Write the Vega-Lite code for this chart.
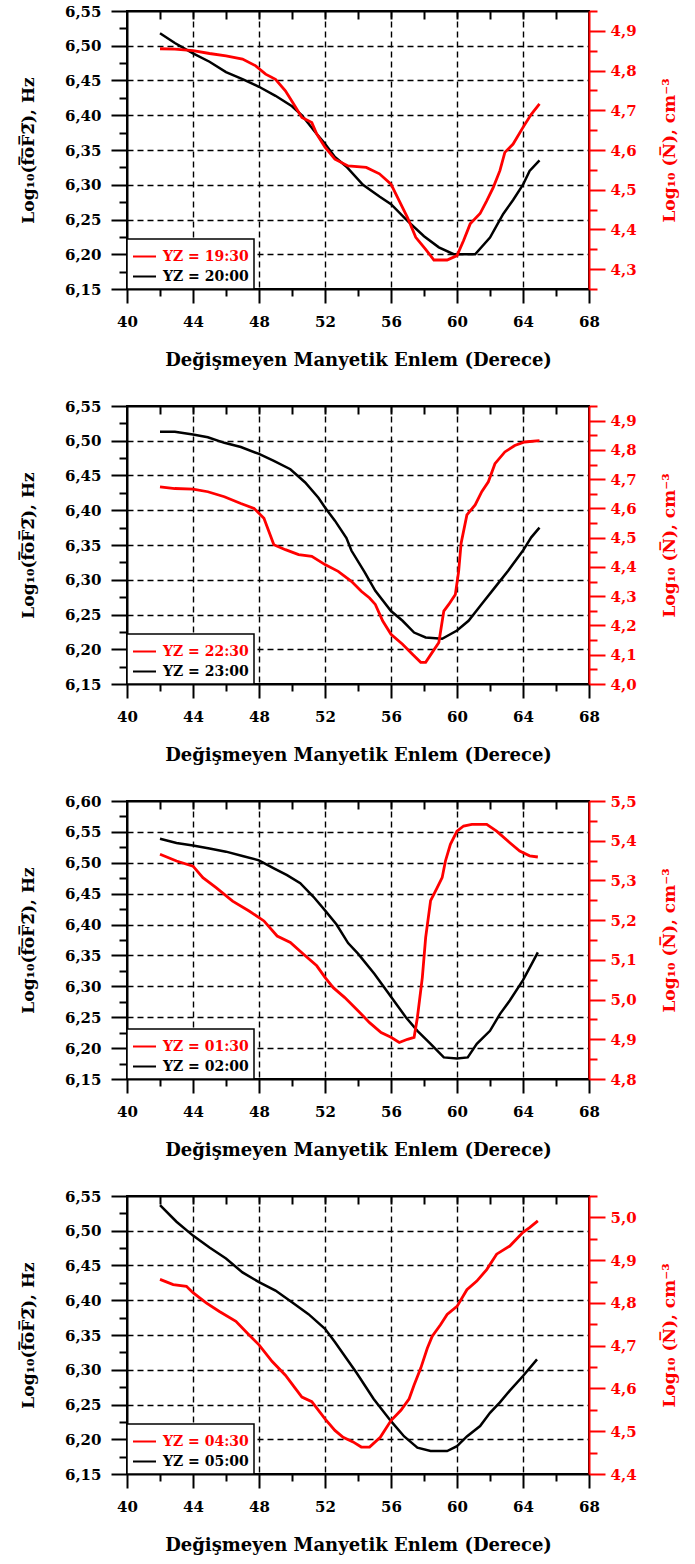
{
  "$schema": "https://vega.github.io/schema/vega-lite/v6.json",
  "padding": {"left": 18, "top": 3, "right": 5, "bottom": 5},
  "background": "white",
  "bounds": "flush",
  "spacing": 117,
  "datasets": {
    "f1": [{"x":42,"y":6.518},{"x":42.9,"y":6.504},{"x":44,"y":6.489},{"x":45,"y":6.477},{"x":46,"y":6.462},{"x":47,"y":6.452},{"x":48,"y":6.441},{"x":49,"y":6.428},{"x":50,"y":6.413},{"x":50.6,"y":6.4},{"x":51.4,"y":6.376},{"x":52,"y":6.359},{"x":52.6,"y":6.34},{"x":53.3,"y":6.326},{"x":54.3,"y":6.3},{"x":55.3,"y":6.283},{"x":56,"y":6.272},{"x":57,"y":6.248},{"x":58,"y":6.226},{"x":58.9,"y":6.21},{"x":59.8,"y":6.2},{"x":61.1,"y":6.2},{"x":62,"y":6.224},{"x":62.8,"y":6.258},{"x":63.4,"y":6.278},{"x":64,"y":6.3},{"x":64.4,"y":6.32},{"x":65,"y":6.335}],
    "n1": [{"x":42,"y":4.855},{"x":42.9,"y":4.854},{"x":44,"y":4.85},{"x":45,"y":4.843},{"x":46,"y":4.837},{"x":47,"y":4.829},{"x":47.8,"y":4.812},{"x":48.4,"y":4.791},{"x":49,"y":4.778},{"x":49.6,"y":4.749},{"x":50.1,"y":4.716},{"x":50.6,"y":4.682},{"x":51.2,"y":4.669},{"x":51.5,"y":4.64},{"x":52,"y":4.607},{"x":52.6,"y":4.577},{"x":53.4,"y":4.56},{"x":54.5,"y":4.556},{"x":55.3,"y":4.54},{"x":56,"y":4.514},{"x":56.5,"y":4.472},{"x":57,"y":4.43},{"x":57.5,"y":4.38},{"x":58.1,"y":4.35},{"x":58.6,"y":4.323},{"x":59.4,"y":4.323},{"x":60,"y":4.334},{"x":60.4,"y":4.372},{"x":60.8,"y":4.414},{"x":61.4,"y":4.44},{"x":61.8,"y":4.472},{"x":62.2,"y":4.506},{"x":62.6,"y":4.548},{"x":62.9,"y":4.594},{"x":63.4,"y":4.615},{"x":64,"y":4.657},{"x":64.5,"y":4.69},{"x":65,"y":4.716}],
    "f2": [{"x":42,"y":6.513},{"x":42.9,"y":6.513},{"x":44,"y":6.509},{"x":44.9,"y":6.505},{"x":45.9,"y":6.497},{"x":46.9,"y":6.491},{"x":48,"y":6.481},{"x":48.9,"y":6.471},{"x":49.9,"y":6.459},{"x":50.8,"y":6.44},{"x":51.6,"y":6.418},{"x":52,"y":6.404},{"x":52.6,"y":6.385},{"x":53.3,"y":6.36},{"x":53.6,"y":6.342},{"x":54.4,"y":6.311},{"x":55.05,"y":6.284},{"x":56,"y":6.255},{"x":56.7,"y":6.241},{"x":57.4,"y":6.224},{"x":58.1,"y":6.217},{"x":59.1,"y":6.215},{"x":60,"y":6.227},{"x":60.7,"y":6.241},{"x":61.5,"y":6.265},{"x":62.3,"y":6.289},{"x":63.1,"y":6.313},{"x":64,"y":6.342},{"x":64.5,"y":6.361},{"x":65,"y":6.375}],
    "n2": [{"x":42,"y":4.674},{"x":42.9,"y":4.668},{"x":44,"y":4.666},{"x":44.9,"y":4.657},{"x":45.9,"y":4.64},{"x":46.9,"y":4.617},{"x":47.7,"y":4.6},{"x":48.3,"y":4.566},{"x":48.6,"y":4.521},{"x":48.9,"y":4.476},{"x":49.6,"y":4.459},{"x":50.4,"y":4.442},{"x":51.2,"y":4.436},{"x":52,"y":4.408},{"x":52.8,"y":4.385},{"x":53.6,"y":4.351},{"x":54.2,"y":4.317},{"x":54.7,"y":4.294},{"x":55.05,"y":4.272},{"x":55.5,"y":4.215},{"x":56,"y":4.17},{"x":56.7,"y":4.136},{"x":57.3,"y":4.102},{"x":57.8,"y":4.074},{"x":58.1,"y":4.074},{"x":58.5,"y":4.108},{"x":58.9,"y":4.142},{"x":59.2,"y":4.249},{"x":59.5,"y":4.272},{"x":59.9,"y":4.306},{"x":60.1,"y":4.385},{"x":60.25,"y":4.481},{"x":60.6,"y":4.578},{"x":61.1,"y":4.612},{"x":61.5,"y":4.657},{"x":61.9,"y":4.691},{"x":62.3,"y":4.753},{"x":62.9,"y":4.793},{"x":63.5,"y":4.815},{"x":64.1,"y":4.827},{"x":65,"y":4.832}],
    "f3": [{"x":42,"y":6.539},{"x":43,"y":6.532},{"x":44,"y":6.528},{"x":45,"y":6.523},{"x":46,"y":6.518},{"x":47,"y":6.511},{"x":48,"y":6.504},{"x":48.9,"y":6.491},{"x":49.7,"y":6.48},{"x":50.5,"y":6.467},{"x":51.3,"y":6.445},{"x":52,"y":6.423},{"x":52.7,"y":6.4},{"x":53.4,"y":6.37},{"x":54,"y":6.353},{"x":55,"y":6.32},{"x":56,"y":6.283},{"x":56.9,"y":6.25},{"x":57.6,"y":6.228},{"x":58.4,"y":6.207},{"x":59.2,"y":6.185},{"x":60,"y":6.183},{"x":60.65,"y":6.185},{"x":61.2,"y":6.207},{"x":62,"y":6.228},{"x":62.6,"y":6.255},{"x":63.2,"y":6.277},{"x":64,"y":6.31},{"x":64.4,"y":6.33},{"x":64.9,"y":6.355}],
    "n3": [{"x":42,"y":5.366},{"x":43,"y":5.349},{"x":44,"y":5.336},{"x":44.6,"y":5.307},{"x":45.4,"y":5.282},{"x":46.4,"y":5.248},{"x":47.4,"y":5.223},{"x":48.3,"y":5.198},{"x":49.1,"y":5.16},{"x":49.9,"y":5.144},{"x":50.7,"y":5.114},{"x":51.5,"y":5.085},{"x":52,"y":5.056},{"x":52.5,"y":5.03},{"x":53.2,"y":5.005},{"x":54,"y":4.972},{"x":54.7,"y":4.942},{"x":55.4,"y":4.917},{"x":56,"y":4.905},{"x":56.5,"y":4.892},{"x":57,"y":4.9},{"x":57.4,"y":4.905},{"x":57.6,"y":4.955},{"x":57.9,"y":5.056},{"x":58.1,"y":5.156},{"x":58.4,"y":5.249},{"x":58.8,"y":5.282},{"x":59.1,"y":5.307},{"x":59.3,"y":5.349},{"x":59.6,"y":5.391},{"x":60,"y":5.424},{"x":60.4,"y":5.437},{"x":60.9,"y":5.441},{"x":61.8,"y":5.441},{"x":62.4,"y":5.424},{"x":63.2,"y":5.395},{"x":63.8,"y":5.374},{"x":64.4,"y":5.362},{"x":64.9,"y":5.359}],
    "f4": [{"x":42,"y":6.537},{"x":43,"y":6.513},{"x":44,"y":6.493},{"x":45,"y":6.476},{"x":46,"y":6.46},{"x":47,"y":6.44},{"x":48,"y":6.426},{"x":49,"y":6.414},{"x":50,"y":6.397},{"x":51,"y":6.38},{"x":52,"y":6.359},{"x":52.6,"y":6.34},{"x":53.1,"y":6.323},{"x":53.9,"y":6.296},{"x":54.95,"y":6.258},{"x":56,"y":6.226},{"x":56.8,"y":6.204},{"x":57.6,"y":6.188},{"x":58.4,"y":6.183},{"x":59.4,"y":6.183},{"x":60,"y":6.19},{"x":60.6,"y":6.204},{"x":61.4,"y":6.219},{"x":62,"y":6.238},{"x":62.6,"y":6.253},{"x":63.2,"y":6.27},{"x":64,"y":6.291},{"x":64.85,"y":6.315}],
    "n4": [{"x":42,"y":4.855},{"x":42.8,"y":4.843},{"x":43.6,"y":4.839},{"x":44,"y":4.824},{"x":44.8,"y":4.8},{"x":45.6,"y":4.78},{"x":46.6,"y":4.757},{"x":47.4,"y":4.725},{"x":48,"y":4.702},{"x":48.8,"y":4.663},{"x":49.6,"y":4.631},{"x":50.2,"y":4.6},{"x":50.6,"y":4.58},{"x":51.2,"y":4.569},{"x":52,"y":4.529},{"x":52.6,"y":4.502},{"x":53.1,"y":4.486},{"x":53.7,"y":4.475},{"x":54.2,"y":4.463},{"x":54.7,"y":4.463},{"x":55.35,"y":4.486},{"x":56,"y":4.525},{"x":56.6,"y":4.549},{"x":57.1,"y":4.576},{"x":57.4,"y":4.608},{"x":57.8,"y":4.647},{"x":58.2,"y":4.694},{"x":58.5,"y":4.722},{"x":59,"y":4.749},{"x":59.4,"y":4.773},{"x":60,"y":4.792},{"x":60.6,"y":4.831},{"x":61.2,"y":4.851},{"x":61.8,"y":4.878},{"x":62.4,"y":4.914},{"x":63.2,"y":4.933},{"x":64,"y":4.965},{"x":64.4,"y":4.976},{"x":64.9,"y":4.992}]
  },
  "resolve": {"scale": {"x": "independent", "y": "independent", "color": "independent"}, "legend": {"color": "independent"}},
  "vconcat": [
    {
      "width": 462, "height": 278,
      "resolve": {"scale": {"y": "independent"}, "axis": {"x": "independent"}},
      "layer": [
        {
          "data": {"name": "f1"},
          "mark": {"type": "line", "strokeWidth": 2.5},
          "encoding": {
            "x": {"field": "x", "type": "quantitative", "scale": {"domain": [40, 68], "nice": false, "zero": false},
              "axis": {"orient": "bottom", "values": [40,42,44,46,48,50,52,54,56,58,60,62,64,66,68], "labelExpr": "datum.value % 4 == 0 ? datum.label : ''", "tickSize": {"condition": {"test": "datum.value % 4 == 0", "value": 14}, "value": 7}, "grid": true, "gridOpacity": {"condition": {"test": "datum.value % 4 == 0 && datum.value > 40 && datum.value < 68", "value": 1}, "value": 0}, "labelPadding": 11, "title": "Değişmeyen Manyetik Enlem (Derece)", "titleFontSize": 18, "titlePadding": 22}},
            "y": {"field": "y", "type": "quantitative", "scale": {"domain": [6.15, 6.55], "nice": false, "zero": false},
              "axis": {"orient": "left", "values": [6.15,6.175,6.2,6.225,6.25,6.275,6.3,6.325,6.35,6.375,6.4,6.425,6.45,6.475,6.5,6.525,6.55], "labelExpr": "abs(datum.value*20-round(datum.value*20))<0.01 ? replace(format(datum.value,'.2f'),'.',',') : ''", "tickSize": {"condition": {"test": "abs(datum.value*20-round(datum.value*20))<0.01", "value": 16}, "value": 8}, "grid": true, "gridOpacity": {"condition": {"test": "abs(datum.value*20-round(datum.value*20))<0.01 && datum.value > 6.16 && datum.value < 6.54", "value": 1}, "value": 0}, "labelPadding": 10, "title": "Log\u2081\u2080(f\u0305o\u0305F\u03052\u0305), Hz", "titlePadding": 27}},
            "color": {"datum": "YZ = 20:00", "type": "nominal", "scale": {"domain": ["YZ = 19:30", "YZ = 20:00"], "range": ["#ff0000", "#000000"]},
              "legend": {"orient": "bottom-left", "offset": 0, "title": null, "padding": 5, "symbolType": "stroke", "symbolSize": 529, "symbolStrokeWidth": 2, "rowPadding": 0, "labelOffset": 6,
                "encode": {"labels": {"update": {"fill": {"signal": "indexof(['YZ = 19:30','YZ = 22:30','YZ = 01:30','YZ = 04:30'], datum.value) >= 0 ? '#ff0000' : '#000000'"}}}}}}
          }
        },
        {
          "data": {"name": "n1"},
          "mark": {"type": "line", "strokeWidth": 2.8},
          "encoding": {
            "x": {"field": "x", "type": "quantitative", "axis": {"orient": "top", "values": [42,44,46,48,50,52,54,56,58,60,62,64,66], "labels": false, "tickSize": -8, "grid": false, "title": null}},
            "y": {"field": "y", "type": "quantitative", "scale": {"domain": [4.25, 4.95], "nice": false, "zero": false},
              "axis": {"orient": "right", "values": [4.25,4.3,4.35,4.4,4.45,4.5,4.55,4.6,4.65,4.7,4.75,4.8,4.85,4.9,4.95], "labelExpr": "abs(datum.value*10-round(datum.value*10))<0.01 ? replace(format(datum.value,'.1f'),'.',',') : ''", "tickSize": {"condition": {"test": "abs(datum.value*10-round(datum.value*10))<0.01", "value": 16}, "value": 8}, "grid": false, "domainColor": "#ff0000", "tickColor": "#ff0000", "labelColor": "#ff0000", "titleColor": "#ff0000", "labelPadding": 5, "title": "Log\u2081\u2080 (N\u0305), cm\u207B\u00B3", "titleAngle": 270, "titlePadding": 42}},
            "color": {"datum": "YZ = 19:30", "type": "nominal"}
          }
        }
      ]
    },
    {
      "width": 462, "height": 278,
      "resolve": {"scale": {"y": "independent"}, "axis": {"x": "independent"}},
      "layer": [
        {
          "data": {"name": "f2"},
          "mark": {"type": "line", "strokeWidth": 2.5},
          "encoding": {
            "x": {"field": "x", "type": "quantitative", "scale": {"domain": [40, 68], "nice": false, "zero": false},
              "axis": {"orient": "bottom", "values": [40,42,44,46,48,50,52,54,56,58,60,62,64,66,68], "labelExpr": "datum.value % 4 == 0 ? datum.label : ''", "tickSize": {"condition": {"test": "datum.value % 4 == 0", "value": 14}, "value": 7}, "grid": true, "gridOpacity": {"condition": {"test": "datum.value % 4 == 0 && datum.value > 40 && datum.value < 68", "value": 1}, "value": 0}, "labelPadding": 11, "title": "Değişmeyen Manyetik Enlem (Derece)", "titleFontSize": 18, "titlePadding": 22}},
            "y": {"field": "y", "type": "quantitative", "scale": {"domain": [6.15, 6.55], "nice": false, "zero": false},
              "axis": {"orient": "left", "values": [6.15,6.175,6.2,6.225,6.25,6.275,6.3,6.325,6.35,6.375,6.4,6.425,6.45,6.475,6.5,6.525,6.55], "labelExpr": "abs(datum.value*20-round(datum.value*20))<0.01 ? replace(format(datum.value,'.2f'),'.',',') : ''", "tickSize": {"condition": {"test": "abs(datum.value*20-round(datum.value*20))<0.01", "value": 16}, "value": 8}, "grid": true, "gridOpacity": {"condition": {"test": "abs(datum.value*20-round(datum.value*20))<0.01 && datum.value > 6.16 && datum.value < 6.54", "value": 1}, "value": 0}, "labelPadding": 10, "title": "Log\u2081\u2080(f\u0305o\u0305F\u03052\u0305), Hz", "titlePadding": 27}},
            "color": {"datum": "YZ = 23:00", "type": "nominal", "scale": {"domain": ["YZ = 22:30", "YZ = 23:00"], "range": ["#ff0000", "#000000"]},
              "legend": {"orient": "bottom-left", "offset": 0, "title": null, "padding": 5, "symbolType": "stroke", "symbolSize": 529, "symbolStrokeWidth": 2, "rowPadding": 0, "labelOffset": 6,
                "encode": {"labels": {"update": {"fill": {"signal": "indexof(['YZ = 19:30','YZ = 22:30','YZ = 01:30','YZ = 04:30'], datum.value) >= 0 ? '#ff0000' : '#000000'"}}}}}}
          }
        },
        {
          "data": {"name": "n2"},
          "mark": {"type": "line", "strokeWidth": 2.8},
          "encoding": {
            "x": {"field": "x", "type": "quantitative", "axis": {"orient": "top", "values": [42,44,46,48,50,52,54,56,58,60,62,64,66], "labels": false, "tickSize": -8, "grid": false, "title": null}},
            "y": {"field": "y", "type": "quantitative", "scale": {"domain": [4.0, 4.95], "nice": false, "zero": false},
              "axis": {"orient": "right", "values": [4.0,4.05,4.1,4.15,4.2,4.25,4.3,4.35,4.4,4.45,4.5,4.55,4.6,4.65,4.7,4.75,4.8,4.85,4.9,4.95], "labelExpr": "abs(datum.value*10-round(datum.value*10))<0.01 ? replace(format(datum.value,'.1f'),'.',',') : ''", "tickSize": {"condition": {"test": "abs(datum.value*10-round(datum.value*10))<0.01", "value": 16}, "value": 8}, "grid": false, "domainColor": "#ff0000", "tickColor": "#ff0000", "labelColor": "#ff0000", "titleColor": "#ff0000", "labelPadding": 5, "title": "Log\u2081\u2080 (N\u0305), cm\u207B\u00B3", "titleAngle": 270, "titlePadding": 42}},
            "color": {"datum": "YZ = 22:30", "type": "nominal"}
          }
        }
      ]
    },
    {
      "width": 462, "height": 278,
      "resolve": {"scale": {"y": "independent"}, "axis": {"x": "independent"}},
      "layer": [
        {
          "data": {"name": "f3"},
          "mark": {"type": "line", "strokeWidth": 2.5},
          "encoding": {
            "x": {"field": "x", "type": "quantitative", "scale": {"domain": [40, 68], "nice": false, "zero": false},
              "axis": {"orient": "bottom", "values": [40,42,44,46,48,50,52,54,56,58,60,62,64,66,68], "labelExpr": "datum.value % 4 == 0 ? datum.label : ''", "tickSize": {"condition": {"test": "datum.value % 4 == 0", "value": 14}, "value": 7}, "grid": true, "gridOpacity": {"condition": {"test": "datum.value % 4 == 0 && datum.value > 40 && datum.value < 68", "value": 1}, "value": 0}, "labelPadding": 11, "title": "Değişmeyen Manyetik Enlem (Derece)", "titleFontSize": 18, "titlePadding": 22}},
            "y": {"field": "y", "type": "quantitative", "scale": {"domain": [6.15, 6.6], "nice": false, "zero": false},
              "axis": {"orient": "left", "values": [6.15,6.175,6.2,6.225,6.25,6.275,6.3,6.325,6.35,6.375,6.4,6.425,6.45,6.475,6.5,6.525,6.55,6.575,6.6], "labelExpr": "abs(datum.value*20-round(datum.value*20))<0.01 ? replace(format(datum.value,'.2f'),'.',',') : ''", "tickSize": {"condition": {"test": "abs(datum.value*20-round(datum.value*20))<0.01", "value": 16}, "value": 8}, "grid": true, "gridOpacity": {"condition": {"test": "abs(datum.value*20-round(datum.value*20))<0.01 && datum.value > 6.16 && datum.value < 6.59", "value": 1}, "value": 0}, "labelPadding": 10, "title": "Log\u2081\u2080(f\u0305o\u0305F\u03052\u0305), Hz", "titlePadding": 27}},
            "color": {"datum": "YZ = 02:00", "type": "nominal", "scale": {"domain": ["YZ = 01:30", "YZ = 02:00"], "range": ["#ff0000", "#000000"]},
              "legend": {"orient": "bottom-left", "offset": 0, "title": null, "padding": 5, "symbolType": "stroke", "symbolSize": 529, "symbolStrokeWidth": 2, "rowPadding": 0, "labelOffset": 6,
                "encode": {"labels": {"update": {"fill": {"signal": "indexof(['YZ = 19:30','YZ = 22:30','YZ = 01:30','YZ = 04:30'], datum.value) >= 0 ? '#ff0000' : '#000000'"}}}}}}
          }
        },
        {
          "data": {"name": "n3"},
          "mark": {"type": "line", "strokeWidth": 2.8},
          "encoding": {
            "x": {"field": "x", "type": "quantitative", "axis": {"orient": "top", "values": [42,44,46,48,50,52,54,56,58,60,62,64,66], "labels": false, "tickSize": -8, "grid": false, "title": null}},
            "y": {"field": "y", "type": "quantitative", "scale": {"domain": [4.8, 5.5], "nice": false, "zero": false},
              "axis": {"orient": "right", "values": [4.8,4.85,4.9,4.95,5.0,5.05,5.1,5.15,5.2,5.25,5.3,5.35,5.4,5.45,5.5], "labelExpr": "abs(datum.value*10-round(datum.value*10))<0.01 ? replace(format(datum.value,'.1f'),'.',',') : ''", "tickSize": {"condition": {"test": "abs(datum.value*10-round(datum.value*10))<0.01", "value": 16}, "value": 8}, "grid": false, "domainColor": "#ff0000", "tickColor": "#ff0000", "labelColor": "#ff0000", "titleColor": "#ff0000", "labelPadding": 5, "title": "Log\u2081\u2080 (N\u0305), cm\u207B\u00B3", "titleAngle": 270, "titlePadding": 42}},
            "color": {"datum": "YZ = 01:30", "type": "nominal"}
          }
        }
      ]
    },
    {
      "width": 462, "height": 278,
      "resolve": {"scale": {"y": "independent"}, "axis": {"x": "independent"}},
      "layer": [
        {
          "data": {"name": "f4"},
          "mark": {"type": "line", "strokeWidth": 2.5},
          "encoding": {
            "x": {"field": "x", "type": "quantitative", "scale": {"domain": [40, 68], "nice": false, "zero": false},
              "axis": {"orient": "bottom", "values": [40,42,44,46,48,50,52,54,56,58,60,62,64,66,68], "labelExpr": "datum.value % 4 == 0 ? datum.label : ''", "tickSize": {"condition": {"test": "datum.value % 4 == 0", "value": 14}, "value": 7}, "grid": true, "gridOpacity": {"condition": {"test": "datum.value % 4 == 0 && datum.value > 40 && datum.value < 68", "value": 1}, "value": 0}, "labelPadding": 11, "title": "Değişmeyen Manyetik Enlem (Derece)", "titleFontSize": 18, "titlePadding": 22}},
            "y": {"field": "y", "type": "quantitative", "scale": {"domain": [6.15, 6.55], "nice": false, "zero": false},
              "axis": {"orient": "left", "values": [6.15,6.175,6.2,6.225,6.25,6.275,6.3,6.325,6.35,6.375,6.4,6.425,6.45,6.475,6.5,6.525,6.55], "labelExpr": "abs(datum.value*20-round(datum.value*20))<0.01 ? replace(format(datum.value,'.2f'),'.',',') : ''", "tickSize": {"condition": {"test": "abs(datum.value*20-round(datum.value*20))<0.01", "value": 16}, "value": 8}, "grid": true, "gridOpacity": {"condition": {"test": "abs(datum.value*20-round(datum.value*20))<0.01 && datum.value > 6.16 && datum.value < 6.54", "value": 1}, "value": 0}, "labelPadding": 10, "title": "Log\u2081\u2080(f\u0305o\u0305F\u03052\u0305), Hz", "titlePadding": 27}},
            "color": {"datum": "YZ = 05:00", "type": "nominal", "scale": {"domain": ["YZ = 04:30", "YZ = 05:00"], "range": ["#ff0000", "#000000"]},
              "legend": {"orient": "bottom-left", "offset": 0, "title": null, "padding": 5, "symbolType": "stroke", "symbolSize": 529, "symbolStrokeWidth": 2, "rowPadding": 0, "labelOffset": 6,
                "encode": {"labels": {"update": {"fill": {"signal": "indexof(['YZ = 19:30','YZ = 22:30','YZ = 01:30','YZ = 04:30'], datum.value) >= 0 ? '#ff0000' : '#000000'"}}}}}}
          }
        },
        {
          "data": {"name": "n4"},
          "mark": {"type": "line", "strokeWidth": 2.8},
          "encoding": {
            "x": {"field": "x", "type": "quantitative", "axis": {"orient": "top", "values": [42,44,46,48,50,52,54,56,58,60,62,64,66], "labels": false, "tickSize": -8, "grid": false, "title": null}},
            "y": {"field": "y", "type": "quantitative", "scale": {"domain": [4.4, 5.05], "nice": false, "zero": false},
              "axis": {"orient": "right", "values": [4.4,4.45,4.5,4.55,4.6,4.65,4.7,4.75,4.8,4.85,4.9,4.95,5.0,5.05], "labelExpr": "abs(datum.value*10-round(datum.value*10))<0.01 ? replace(format(datum.value,'.1f'),'.',',') : ''", "tickSize": {"condition": {"test": "abs(datum.value*10-round(datum.value*10))<0.01", "value": 16}, "value": 8}, "grid": false, "domainColor": "#ff0000", "tickColor": "#ff0000", "labelColor": "#ff0000", "titleColor": "#ff0000", "labelPadding": 5, "title": "Log\u2081\u2080 (N\u0305), cm\u207B\u00B3", "titleAngle": 270, "titlePadding": 42}},
            "color": {"datum": "YZ = 04:30", "type": "nominal"}
          }
        }
      ]
    }
  ],
  "config": {
    "view": {"stroke": "#000000", "strokeWidth": 2},
    "axis": {"labelFont": "DejaVu Serif", "labelFontWeight": "bold", "labelFontSize": 15, "labelColor": "#000000", "titleFont": "DejaVu Serif", "titleFontWeight": "bold", "titleFontSize": 17, "titleColor": "#000000", "domainColor": "#000000", "domainWidth": 2, "tickColor": "#000000", "tickWidth": 2, "gridColor": "#000000", "gridDash": [6, 4], "gridWidth": 1.4, "labelFlush": false, "labelOverlap": false, "labelBound": false},
    "legend": {"labelFont": "DejaVu Serif", "labelFontWeight": "bold", "labelFontSize": 14, "strokeColor": "#000000", "fillColor": "#ffffff", "strokeWidth": 1.5}
  }
}
